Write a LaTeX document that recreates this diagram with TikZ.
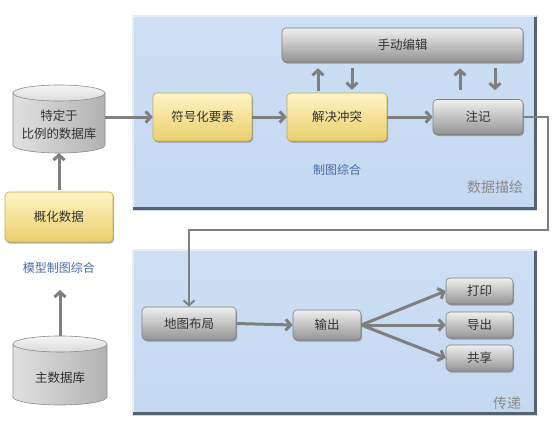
\documentclass[tikz,border=0pt]{standalone}
\usepackage{fontspec}
\setmainfont{Noto Sans CJK SC}
\usetikzlibrary{arrows.meta,shadows,calc}
\definecolor{panelblue}{HTML}{C4D8F0}
\definecolor{paneltop}{HTML}{CEDFF4}
\definecolor{paneldark}{HTML}{56626E}
\definecolor{arrgray}{HTML}{7F7F7F}
\definecolor{ytop}{HTML}{FFF4C4}
\definecolor{ymid}{HTML}{FBE79E}
\definecolor{ybot}{HTML}{EACF6C}
\definecolor{yedge}{HTML}{C7A84A}
\definecolor{lblblue}{HTML}{4A6AA5}
\definecolor{lblgray}{HTML}{8A8A8A}
\definecolor{txt}{HTML}{333333}
\tikzset{
  base/.style={rounded corners=4pt, inner sep=0pt, text=txt,
    font=\fontsize{12.5}{15}\selectfont,
    drop shadow={shadow xshift=1pt, shadow yshift=-1.5pt, opacity=0.45, fill=black!70}},
  ybox/.style={base, top color=ytop, middle color=ymid, bottom color=ybot, draw=yedge, line width=0.6pt},
  gbox/.style={base, top color=black!6, middle color=black!22, bottom color=black!42, draw=black!50, line width=0.6pt},
  arr/.style={draw=arrgray, line width=3pt, -{Straight Barb[length=5pt,width=11pt]}},
  conn/.style={draw=arrgray, line width=2pt, -{Straight Barb[length=5pt,width=11pt]}},
  lblb/.style={text=lblblue, font=\fontsize{12}{14}\selectfont},
  lblg/.style={text=lblgray, font=\fontsize{14}{16}\selectfont},
  cyltext/.style={inner sep=0pt, text=txt, align=center, font=\fontsize{12.5}{18}\selectfont}
}
\begin{document}
\begin{tikzpicture}[x=1pt,y=-1pt]
\useasboundingbox (0,0) rectangle (555,423);
\fill[white] (0,0) rectangle (555,423);
% panels
\foreach \ya/\yb in {15/210, 249/415}{
  \shade[top color=paneltop, bottom color=panelblue] (132,\ya) rectangle (537,\yb);
  \draw[white!55!panelblue, line width=2pt] (133,\yb) -- (133,\ya+1) -- (536,\ya+1);
  \draw[paneldark, line width=3pt] (535.5,\ya+2) -- (535.5,\yb-1.5) -- (133,\yb-1.5);
}
% cylinders
\shade[left color=black!12, right color=black!30, draw=black!45, line width=0.6pt]
  (13,93) -- (13,145) arc[start angle=180, end angle=0, x radius=46, y radius=8] -- (105,93) -- cycle;
\shade[top color=black!4, bottom color=black!14, draw=black!45, line width=0.6pt] (59,93) ellipse[x radius=46, y radius=8];
\node[cyltext, minimum width=92pt, minimum height=68pt] (cyl1) at (59,125) {特定于\\比例的数据库};
\shade[left color=black!12, right color=black!30, draw=black!45, line width=0.6pt]
  (13,344) -- (13,397) arc[start angle=180, end angle=0, x radius=47, y radius=8] -- (107,344) -- cycle;
\shade[top color=black!4, bottom color=black!14, draw=black!45, line width=0.6pt] (60,344) ellipse[x radius=47, y radius=8];
\node[cyltext, minimum width=94pt, minimum height=60pt] (cyl2) at (60,378) {主数据库};
\coordinate (cyl1b) at (59,153);
\coordinate (cyl2t) at (60,336);
\coordinate (upend) at (60,290);
% left column
\node[ybox, minimum width=108pt, minimum height=50pt] (gen) at (59,217) {概化数据};
\node[lblb] (lblmodel) at (59,268) {模型制图综合};
% top panel nodes
\node[gbox, minimum width=241pt, minimum height=34pt] (edit) at (402.5,45) {手动编辑};
\node[ybox, minimum width=99pt, minimum height=48pt] (sym) at (202.5,117) {符号化要素};
\node[ybox, minimum width=100pt, minimum height=48pt] (res) at (337,117) {解决冲突};
\node[gbox, minimum width=90pt, minimum height=35pt] (note) at (478,117) {注记};
\node[lblb] (lblcg) at (337,170) {制图综合};
\node[lblg] (lbldd) at (495,187) {数据描绘};
% bottom panel nodes
\node[gbox, minimum width=94pt, minimum height=33pt] (map) at (189,323.5) {地图布局};
\node[gbox, minimum width=68pt, minimum height=30pt] (out) at (327,325) {输出};
\node[gbox, minimum width=67pt, minimum height=26pt] (print) at (479.5,291) {打印};
\node[gbox, minimum width=67pt, minimum height=26pt] (export) at (479.5,325) {导出};
\node[gbox, minimum width=67pt, minimum height=26pt] (share) at (479.5,358) {共享};
\node[lblg] (lblcd) at (507,403) {传递};
% arrows
\draw[arr, shorten <=2pt] (gen.north) -- (cyl1b);
\draw[arr] (cyl2t) -- (upend);
\draw[arr] (cyl1.east |- sym.west) -- (sym.west);
\draw[arr] (sym.east) -- (res.west);
\draw[arr] (res.east) -- (note.west);
\draw[arr, shorten <=2pt, shorten >=6pt] ([xshift=-19pt]res.north) -- ([xshift=-19pt]res.north |- edit.south);
\draw[arr, shorten <=6pt, shorten >=3pt] ([xshift=15pt]res.north |- edit.south) -- ([xshift=15pt]res.north);
\draw[arr, shorten <=9pt, shorten >=6pt] ([xshift=-18pt]note.north) -- ([xshift=-18pt]note.north |- edit.south);
\draw[arr, shorten <=6pt, shorten >=9pt] ([xshift=17pt]note.north |- edit.south) -- ([xshift=17pt]note.north);
\coordinate (turn) at (548,230);
\draw[conn, rounded corners=0pt] (note.east) -| (turn) -| (map.north);
\draw[arr] (map.east) -- (out.west);
\draw[arr] (out.east) -- (print.west);
\draw[arr] (out.east) -- (export.west);
\draw[arr] (out.east) -- (share.west);
\end{tikzpicture}
\end{document}
